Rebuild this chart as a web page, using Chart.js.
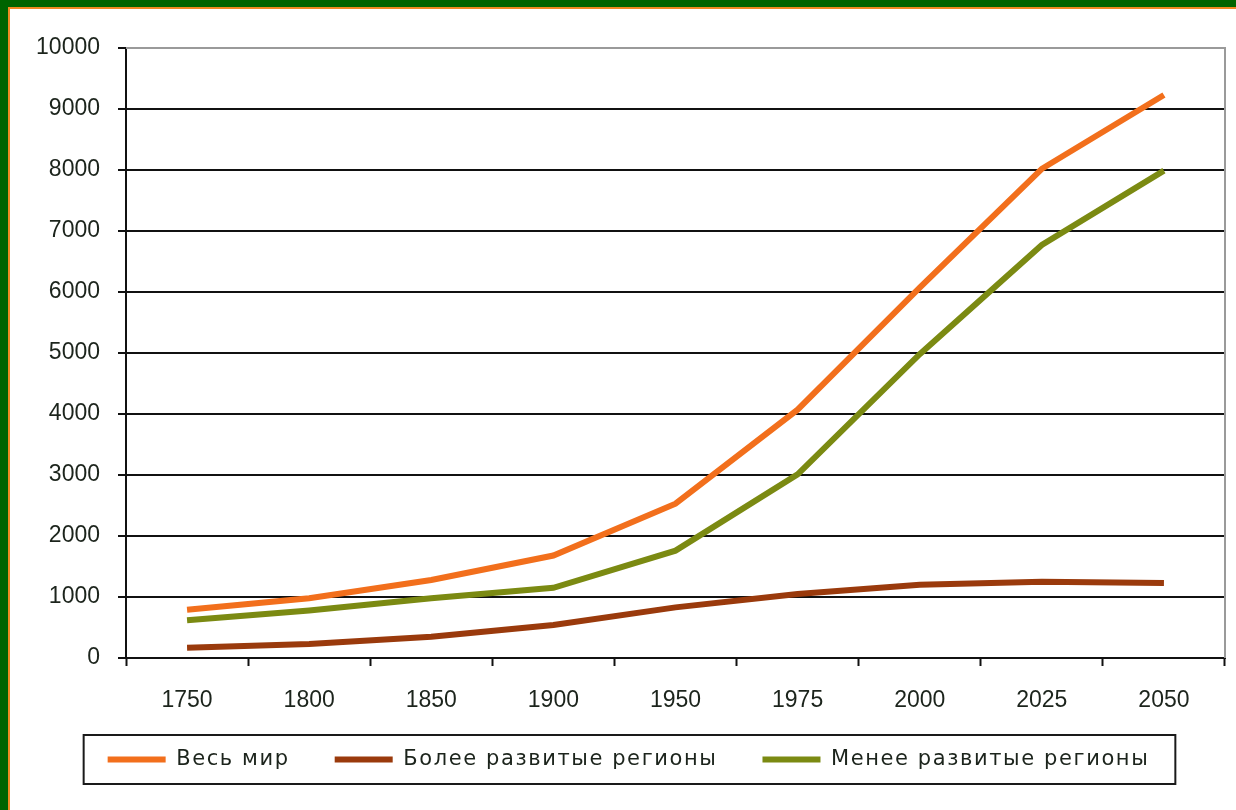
<!DOCTYPE html>
<html>
<head>
<meta charset="utf-8">
<script src="https://cdn.jsdelivr.net/npm/chart.js@4"></script>
<style>
  html, body { margin: 0; padding: 0; background: #fff; }
  .frame {
    position: absolute; left: 0; top: 0; width: 1236px; height: 810px;
    box-sizing: border-box;
    border-top: 7px solid #006400; border-left: 8px solid #006400;
  }
  .inner {
    position: absolute; left: 0; top: 0; right: 0; bottom: 0;
    border-top: 2px solid #f08a24; border-left: 2px solid #f08a24;
    background: #fff;
  }
  #chart { position: absolute; left: 0; top: 0; }
</style>
</head>
<body>
<div class="frame"><div class="inner"><canvas id="chart" width="1226" height="801"></canvas></div></div>
<script>
// years on the category axis
const years = ['1750', '1800', '1850', '1900', '1950', '1975', '2000', '2025', '2050'];
// population, millions
const world = [790, 980, 1280, 1680, 2530, 4070, 6070, 8020, 9230];
const developed = [170, 230, 350, 540, 830, 1050, 1200, 1250, 1230];
const developing = [620, 780, 980, 1150, 1760, 3010, 4980, 6770, 7990];
const seriesNames = ['Весь мир', 'Более развитые регионы', 'Менее развитые регионы'];

const orange = '#f26f1c';
const brown = '#9a3a0c';
const olive = '#7b8a12';
const textColor = '#1c241c';
const family = '"Liberation Sans", Arial, sans-serif';

// legend text in the picture is wide and a bit spaced out
const spaced = fn => function (...args) {
  const c = this.ctx;
  const prev = c.letterSpacing;
  c.letterSpacing = '1.6px';
  const r = fn.apply(this, args);
  c.letterSpacing = prev || '0px';
  return r;
};

const framePlugin = {
  id: 'frame',
  afterInit(chart) {
    const lg = chart.legend;
    if (lg && !lg._spaced) {
      lg.fit = spaced(lg.fit);
      lg.draw = spaced(lg.draw);
      lg._spaced = true;
    }
  },
  afterLayout(chart) {
    // nudge the legend to where it sits in the picture
    const lg = chart.legend;
    lg.top -= 10; lg.bottom -= 10;
    lg.left += 11; lg.right += 11;
  },
  afterDraw(chart) {
    const ctx = chart.ctx;
    const a = chart.chartArea;
    ctx.save();
    ctx.strokeStyle = '#9a9a9a';
    ctx.lineWidth = 2;
    ctx.beginPath();
    ctx.moveTo(a.left, a.top);
    ctx.lineTo(a.right, a.top);
    ctx.lineTo(a.right, a.bottom);
    ctx.stroke();

    const hb = chart.legend.legendHitBoxes;
    if (hb && hb.length) {
      const left = Math.min(...hb.map(h => h.left)) - 24;
      const right = Math.max(...hb.map(h => h.left + h.width)) + 26;
      const top = hb[0].top - 14;
      const bottom = hb[0].top + hb[0].height + 14;
      ctx.strokeStyle = '#1a1a1a';
      ctx.lineWidth = 2;
      ctx.strokeRect(left, top, right - left, bottom - top);
    }
    ctx.restore();
  }
};

const lineSet = (label, data, color) => ({
  label,
  data,
  borderColor: color,
  backgroundColor: color,
  borderWidth: 6,
  pointRadius: 0,
  pointHoverRadius: 0,
  tension: 0,
  fill: false
});

new Chart(document.getElementById('chart'), {
  type: 'line',
  data: {
    labels: years,
    datasets: [
      lineSet(seriesNames[0], world, orange),
      lineSet(seriesNames[1], developed, brown),
      lineSet(seriesNames[2], developing, olive)
    ]
  },
  options: {
    responsive: false,
    animation: false,
    layout: { padding: { top: 39, right: 11, left: 0, bottom: 20 } },
    scales: {
      x: {
        offset: true,
        afterFit: s => { s.height = 56; },
        grid: {
          offset: true,
          drawOnChartArea: false,
          drawTicks: true,
          tickLength: 8,
          tickWidth: 2,
          tickColor: '#111'
        },
        border: { color: '#111', width: 2 },
        ticks: { color: textColor, font: { family, size: 23 }, padding: 21, maxRotation: 0, autoSkip: false }
      },
      y: {
        min: 0,
        max: 10000,
        afterFit: s => { s.width = 116; },
        grid: {
          color: ctx => (ctx.tick && ctx.tick.value === 10000 ? '#9a9a9a' : '#111'),
          lineWidth: 2,
          tickLength: 8,
          tickColor: '#111'
        },
        border: { color: '#111', width: 2 },
        ticks: {
          stepSize: 1000,
          color: textColor,
          font: { family, size: 23 },
          padding: 18,
          callback: v => String(v)
        }
      }
    },
    plugins: {
      tooltip: { enabled: false },
      legend: {
        position: 'bottom',
        labels: {
          usePointStyle: true,
          pointStyle: 'line',
          pointStyleWidth: 58,
          padding: 45,
          color: textColor,
          font: { family: '"DejaVu Sans", Verdana, sans-serif', size: 21 }
        }
      }
    }
  },
  plugins: [framePlugin]
});
</script>
</body>
</html>
